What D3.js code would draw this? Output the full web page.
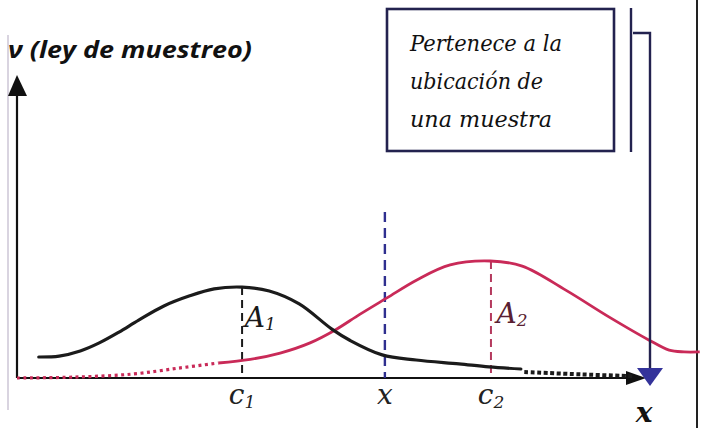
<!DOCTYPE html>
<html>
<head>
<meta charset="utf-8">
<script src="https://cdn.jsdelivr.net/npm/d3@7"></script>
<style>
  html, body { margin: 0; padding: 0; background: #fff; }
  svg { display: block; }
  .serif { font-family: "DejaVu Serif", "Liberation Serif", serif; font-style: italic; }
</style>
</head>
<body>
<svg id="chart"></svg>
<script>
// two sampling-law curves; x in [0, 10] along the axis, density in [0, 1]
const blackSolid = [[0.32, 0.07], [0.62, 0.073], [0.93, 0.09], [1.21, 0.117], [1.5, 0.153],
  [1.79, 0.193], [2.16, 0.24], [2.53, 0.273], [2.9, 0.297], [3.31, 0.303], [3.71, 0.29],
  [4.15, 0.247], [4.63, 0.163], [4.9, 0.125], [5.37, 0.077], [5.87, 0.06], [6.5, 0.047],
  [6.94, 0.037], [7.41, 0.03]];
const blackDotted = [[7.46, 0.02], [8.3, 0.012], [9.07, 0.006]];
const redDotted = [[0, 0], [0.84, 0.003], [1.69, 0.013], [2.38, 0.033], [2.96, 0.05]];
const redSolid = [[2.96, 0.05], [3.43, 0.062], [3.87, 0.083], [4.31, 0.117], [4.68, 0.16],
  [5.04, 0.212], [5.44, 0.267], [5.88, 0.327], [6.37, 0.377], [6.96, 0.39], [7.43, 0.373],
  [8.07, 0.293], [8.71, 0.203], [9.29, 0.127], [9.59, 0.093], [9.81, 0.087], [10.04, 0.087]];

const markerNames = ["c", "x", "c"];
const markerSubs = ["1", "", "2"];
const markerX = [3.31, 5.41, 6.97];
const markerTop = [0.303, 0.553, 0.39];
const areaNames = ["A", "A"];
const areaSubs = ["1", "2"];
const areaX = [3.35, 7.05];
const areaY = [0.17, 0.183];

const boxLines = ["Pertenece a la", "ubicación de", "una muestra"];
const boxWidths = [152, 133, 142];
const yLabel = "ν (ley de muestreo)";
const xLabel = "x";

const width = 701,
  height = 428,
  origin = { x: 17, y: 378 };

const x = d3.scaleLinear([0, 10], [origin.x, origin.x + 680]);
const y = d3.scaleLinear([0, 1], [origin.y, origin.y - 300]);

const red = "#c92a58",
  navy = "#23224f",
  blue = "#2f2f8f";

const svg = d3.select("#chart").attr("width", width).attr("height", height);

const line = d3
  .line()
  .x(d => x(d[0]))
  .y(d => y(d[1]))
  .curve(d3.curveCatmullRom.alpha(0.5));

// scan artefacts: faint left line and right frame
svg.append("line")
  .attr("x1", 8).attr("x2", 8).attr("y1", 35).attr("y2", 410)
  .attr("stroke", "#cdc6d6").attr("stroke-width", 1.5);
svg.append("line")
  .attr("x1", 697).attr("x2", 697).attr("y1", 0).attr("y2", height)
  .attr("stroke", "#222").attr("stroke-width", 2);

// axes
svg.append("line")
  .attr("x1", x(0)).attr("x2", x(0)).attr("y1", y(0)).attr("y2", 92)
  .attr("stroke", "#111").attr("stroke-width", 2.2);
svg.append("path")
  .attr("d", `M${x(0) - 9},96 L${x(0) + 10},96 L${x(0)},75 Z`)
  .attr("fill", "#111");

svg.append("line")
  .attr("x1", x(0)).attr("x2", 632).attr("y1", y(0)).attr("y2", y(0))
  .attr("stroke", "#111").attr("stroke-width", 2.2);
svg.append("path")
  .attr("d", `M626,${y(0) - 7} L646,${y(0)} L626,${y(0) + 7} Z`)
  .attr("fill", "#111");

// marker verticals
const markerColors = ["#1a1a1a", blue, "#b53a5e"];
const markerDash = ["8,5", "10,6", "8,5"];
svg.append("g")
  .selectAll("line")
  .data(markerX)
  .join("line")
  .attr("x1", d => x(d)).attr("x2", d => x(d))
  .attr("y1", (d, i) => y(markerTop[i]))
  .attr("y2", y(0))
  .attr("stroke", (d, i) => markerColors[i])
  .attr("stroke-width", (d, i) => (i === 1 ? 2.4 : 2))
  .attr("stroke-dasharray", (d, i) => markerDash[i]);

// curves
svg.append("path").datum(redDotted).attr("d", line)
  .attr("fill", "none").attr("stroke", red).attr("stroke-width", 3.2)
  .attr("stroke-dasharray", "3,3.5");
svg.append("path").datum(redSolid).attr("d", line)
  .attr("fill", "none").attr("stroke", red).attr("stroke-width", 2.8);
svg.append("path").datum(blackSolid).attr("d", line)
  .attr("fill", "none").attr("stroke", "#1b1b1b").attr("stroke-width", 3.2)
  .attr("stroke-linecap", "round");
svg.append("path").datum(blackDotted).attr("d", line)
  .attr("fill", "none").attr("stroke", "#1b1b1b").attr("stroke-width", 4)
  .attr("stroke-dasharray", "4,2.5");

// annotation box and connector
svg.append("rect")
  .attr("x", 387).attr("y", 9).attr("width", 227).attr("height", 142)
  .attr("fill", "none").attr("stroke", navy).attr("stroke-width", 2.6);
svg.append("line")
  .attr("x1", 631).attr("x2", 631).attr("y1", 8).attr("y2", 152)
  .attr("stroke", navy).attr("stroke-width", 2.4);
svg.append("path")
  .attr("d", "M633,33 L650,33 L650,370")
  .attr("fill", "none").attr("stroke", navy).attr("stroke-width", 2.4);
svg.append("path")
  .attr("d", "M637,368 L663,368 L650,386 Z")
  .attr("fill", "#34339a");

svg.append("g")
  .attr("class", "serif")
  .style("font-size", "23px")
  .attr("fill", "#111")
  .selectAll("text")
  .data(boxLines)
  .join("text")
  .attr("x", 410)
  .attr("y", (d, i) => 51 + i * 38)
  .attr("textLength", (d, i) => boxWidths[i])
  .attr("lengthAdjust", "spacingAndGlyphs")
  .text(d => d);

// y label
svg.append("text")
  .attr("x", 8).attr("y", 58)
  .style("font-family", "'Open Sans', sans-serif")
  .style("font-style", "italic")
  .style("font-weight", 700)
  .style("font-size", "23px")
  .attr("fill", "#111")
  .attr("textLength", 244)
  .attr("lengthAdjust", "spacingAndGlyphs")
  .text(yLabel);

// tick-like labels under the axis
svg.append("g")
  .attr("class", "serif")
  .style("font-size", "28px")
  .attr("fill", "#222")
  .selectAll("text")
  .data(markerX)
  .join("text")
  .attr("x", d => x(d))
  .attr("y", 404)
  .attr("text-anchor", "middle")
  .call(t => t.append("tspan").text((d, i) => markerNames[i]))
  .call(t => t.append("tspan")
    .attr("dy", 4)
    .style("font-size", "17px")
    .text((d, i) => markerSubs[i]));

// area labels
svg.append("g")
  .attr("class", "serif")
  .style("font-size", "28px")
  .selectAll("text")
  .data(areaX)
  .join("text")
  .attr("x", d => x(d))
  .attr("y", (d, i) => y(areaY[i]))
  .attr("fill", (d, i) => (i === 0 ? "#1a1a1a" : "#5a1f33"))
  .call(t => t.append("tspan").text((d, i) => areaNames[i]))
  .call(t => t.append("tspan")
    .attr("dy", 3)
    .style("font-size", "17px")
    .text((d, i) => areaSubs[i]));

// x axis name
svg.append("text")
  .attr("class", "serif")
  .attr("x", 644).attr("y", 422)
  .attr("text-anchor", "middle")
  .style("font-weight", 700)
  .style("font-size", "28px")
  .attr("fill", "#111")
  .text(xLabel);
</script>
</body>
</html>
